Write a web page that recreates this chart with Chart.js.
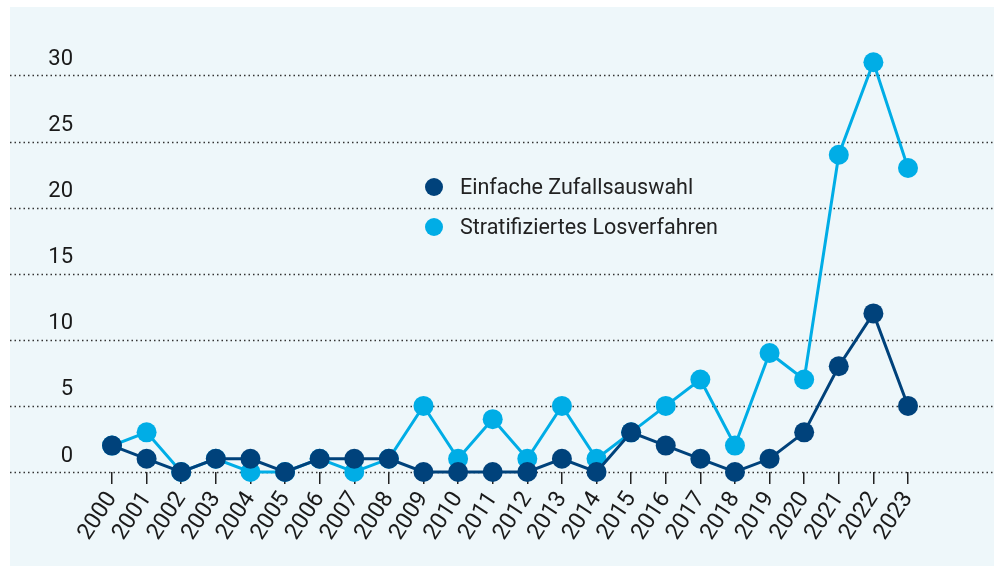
<!DOCTYPE html>
<html>
<head>
<meta charset="utf-8">
<script src="https://cdn.jsdelivr.net/npm/chart.js@4"></script>
<style>
  html, body { margin: 0; padding: 0; background: #fff; }
  #wrap { position: relative; width: 994px; height: 566px; overflow: hidden; }
  #panel { position: absolute; left: 10px; top: 7px; right: 0; bottom: 0; background: #eef7fa; }
  #chart { position: absolute; left: 0; top: 0; }
  .legend { position: absolute; left: 425px; font-family: Roboto, sans-serif; font-size: 21.5px; color: #222; }
  .legend div { height: 40px; line-height: 40px; display: flex; align-items: center; }
  .legend span.dot { width: 18px; height: 18px; border-radius: 50%; display: inline-block; margin-right: 17px; }
</style>
</head>
<body>
<div id="wrap">
  <div id="panel"></div>
  <canvas id="chart" width="994" height="566"></canvas>
  <div class="legend" id="legend" style="top:167px"></div>
</div>
<script>
  const years = ['2000','2001','2002','2003','2004','2005','2006','2007','2008','2009','2010','2011',
                 '2012','2013','2014','2015','2016','2017','2018','2019','2020','2021','2022','2023'];
  const einfache = [2, 1, 0, 1, 1, 0, 1, 1, 1, 0, 0, 0, 0, 1, 0, 3, 2, 1, 0, 1, 3, 8, 12, 5];
  const stratifiziert = [2, 3, 0, 1, 0, 0, 1, 0, 1, 5, 1, 4, 1, 5, 1, 3, 5, 7, 2, 9, 7, 24, 31, 23];
  const yTicks = [0, 5, 10, 15, 20, 25, 30];
  const seriesNames = ['Einfache Zufallsauswahl', 'Stratifiziertes Losverfahren'];
  const colors = ['#00427b', '#00ade6'];

  // dotted gridlines across the whole panel
  const fullGrid = {
    id: 'fullGrid',
    beforeDatasetsDraw(chart) {
      const ctx = chart.ctx, y = chart.scales.y;
      ctx.save();
      ctx.strokeStyle = '#333';
      ctx.lineWidth = 1.5;
      ctx.setLineDash([1.5, 3]);
      yTicks.forEach(v => {
        const py = Math.round(y.getPixelForValue(v)) + 0.5;
        ctx.beginPath();
        ctx.moveTo(10, py);
        ctx.lineTo(994, py);
        ctx.stroke();
      });
      ctx.restore();
    }
  };

  const ds = (i, data) => ({
    label: seriesNames[i],
    data,
    borderColor: colors[i],
    backgroundColor: colors[i],
    pointBackgroundColor: colors[i],
    pointBorderWidth: 0,
    pointRadius: 10,
    pointHoverRadius: 10,
    borderWidth: 3,
    tension: 0,
    clip: false
  });

  new Chart(document.getElementById('chart'), {
    type: 'line',
    data: { labels: years, datasets: [ds(0, einfache), ds(1, stratifiziert)] },
    options: {
      responsive: false,
      animation: false,
      events: [],
      layout: { padding: { left: 10, right: 86, top: 49, bottom: 14 } },
      plugins: { legend: { display: false }, tooltip: { enabled: false } },
      scales: {
        x: {
          offset: false,
          afterFit: s => { s.height = 80; s.paddingLeft = 0; s.paddingRight = 0; },
          border: { display: false },
          grid: { drawOnChartArea: false, drawTicks: true, tickLength: 12, color: '#222', lineWidth: 1.5 },
          ticks: {
            color: '#1a1a1a',
            font: { family: 'Roboto', size: 23 },
            minRotation: 57, maxRotation: 57,
            autoSkip: false,
            padding: 3
          }
        },
        y: {
          min: 0, max: 32,
          afterFit: s => { s.width = 102; s.paddingTop = 0; s.paddingBottom = 0; },
          border: { display: false },
          grid: { display: false, drawTicks: false },
          afterBuildTicks: s => { s.ticks = yTicks.map(v => ({ value: v })); },
          ticks: {
            color: '#1a1a1a',
            font: { family: 'Roboto', size: 22 },
            padding: 39,
            labelOffset: -16
          }
        }
      }
    },
    plugins: [fullGrid]
  });

  const legend = document.getElementById('legend');
  seriesNames.forEach((name, i) => {
    const row = document.createElement('div');
    const dot = document.createElement('span');
    dot.className = 'dot';
    dot.style.background = colors[i];
    row.appendChild(dot);
    row.appendChild(document.createTextNode(name));
    legend.appendChild(row);
  });
</script>
</body>
</html>
